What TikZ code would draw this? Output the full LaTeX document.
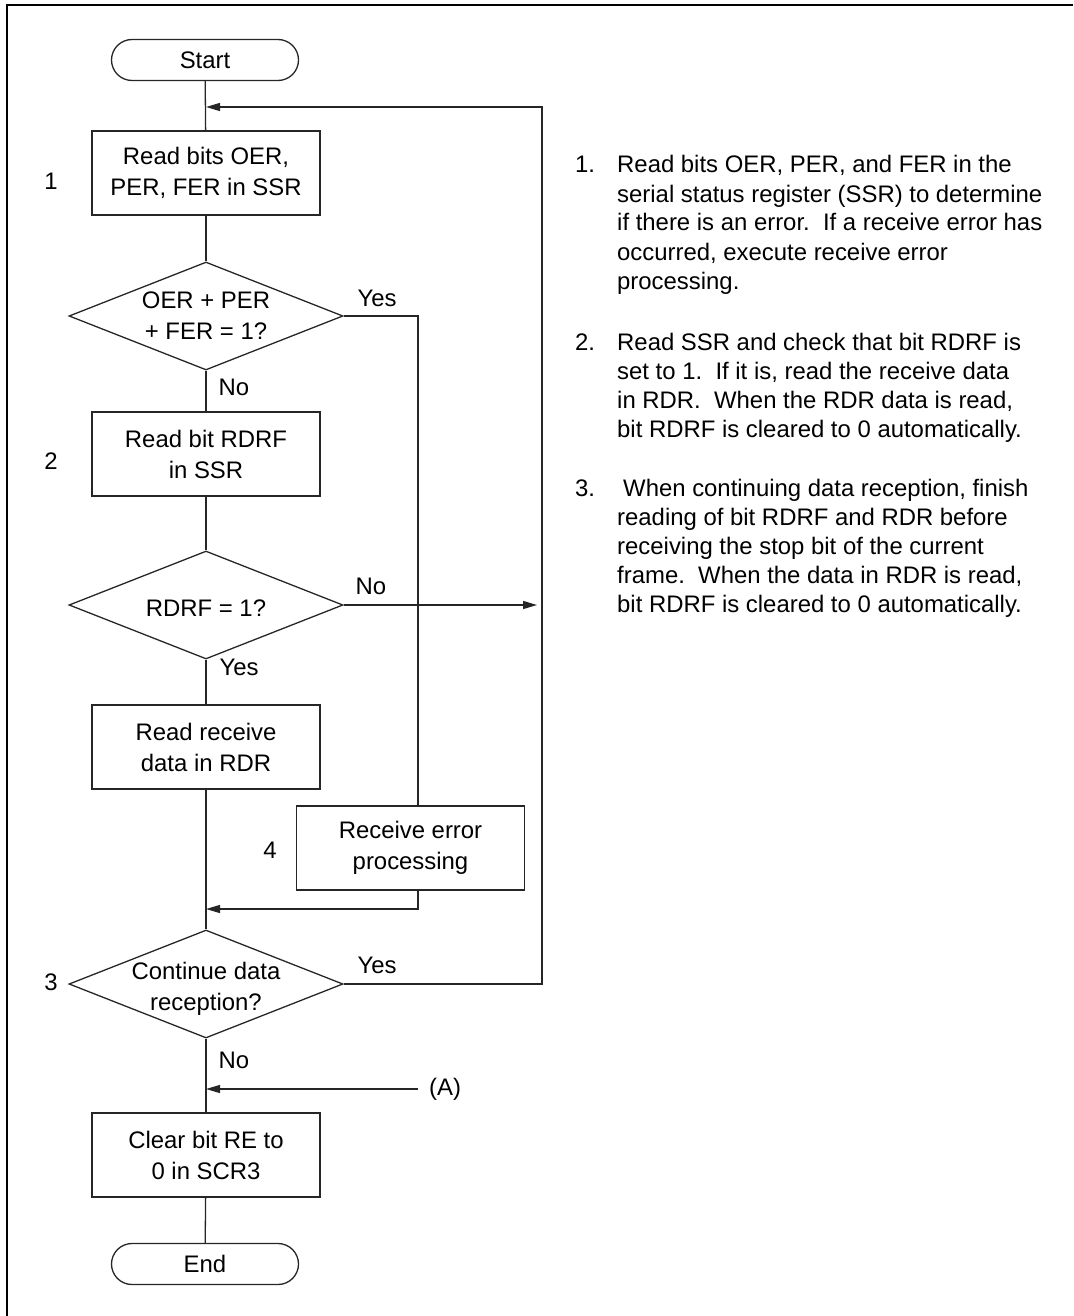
\documentclass[tikz,border=0pt]{standalone}
\usepackage{fontspec}
\setmainfont{Liberation Sans}
\usetikzlibrary{arrows.meta,shapes.geometric,calc}
\begin{document}
\begin{tikzpicture}[x=1pt,y=-1pt,
  every node/.style={font=\fontsize{23.9}{31}\selectfont},
  flow/.style={line width=1.3pt, draw=black!85},
  proc/.style={draw=black!85, line width=1.3pt, rectangle, minimum width=228pt, minimum height=84pt, align=center, inner sep=0,
    execute at begin node={\rule{0pt}{29pt}}},
  term/.style={draw=black!85, line width=1.3pt, rectangle, rounded corners=20.5pt, minimum width=187pt, minimum height=41pt, inner sep=0},
  dec/.style={draw=black!85, line width=1.3pt, diamond, minimum width=274pt, minimum height=108pt, inner sep=0},
  arr/.style={-{Triangle[length=14pt,width=8pt]}},
  lbl/.style={inner sep=0},
  note/.style={inner sep=0, anchor=base west, font=\fontsize{23.9}{29}\selectfont}]
\useasboundingbox (0,0) rectangle (1073,1316);
% frame
\draw[line width=2pt] (7,1316) -- (7,5) -- (1073,5);

% flow nodes
\node[term] (start) at (205,60) {Start};
\node[proc] (b1) at (206,173) {Read bits OER,\\PER, FER in SSR};
\node[dec] (d1) at (206,316) {};
\node[align=center, inner sep=0] (d1t) at (d1) {OER + PER\\+ FER = 1?};
\node[proc] (b2) at (206,454) {Read bit RDRF\\in SSR};
\node[dec] (d2) at (206,605) {};
\node[inner sep=0] (d2t) at ([yshift=-3pt]d2) {RDRF = 1?};
\node[proc] (b3) at (206,747) {Read receive\\data in RDR};
\node[proc] (b4) at (410.5,848) {Receive error\\processing};
\node[dec] (d3) at (206,984) {};
\node[align=center, inner sep=0] (d3t) at ([yshift=-5pt]d3) {Continue data\\reception?};
\node[proc] (b5) at (206,1155) {Clear bit RE to\\0 in SCR3};
\node[term] (end) at (205,1264) {End};

% step labels
\node[lbl] (l1) at (51,181) {1};
\node[lbl] (l2) at (51,461) {2};
\node[lbl] (l3) at (51,982) {3};
\node[lbl] (l4) at (270,850) {4};

% branch labels
\node[lbl] (y1l) at (377,298) {Yes};
\node[lbl] (n1l) at (234,387) {No};
\node[lbl] (n2l) at (371,586) {No};
\node[lbl] (y2l) at (239,667) {Yes};
\node[lbl] (y3l) at (377,965) {Yes};
\node[lbl] (n3l) at (234,1060) {No};
\node[lbl, anchor=west] (alab) at (429,1089) {(A)};

% coordinates
\coordinate (r1) at (542,984);
\coordinate (r2) at (542,107);
\coordinate (m1) at (206,107);
\coordinate (ye) at (418,316);
\coordinate (j1) at (418,909);
\coordinate (j2) at (206,909);
\coordinate (n2) at (537,605);
\coordinate (a1) at (418,1089);
\coordinate (a2) at (206,1089);

% main connectors
\draw[flow] (start) -- (b1);
\draw[flow] (b1) -- (d1);
\draw[flow] (d1) -- (b2);
\draw[flow] (b2) -- (d2);
\draw[flow] (d2) -- (b3);
\draw[flow] (b3) -- (d3);
\draw[flow] (d3) -- (b5);
\draw[flow] (b5) -- (end);

% branches
\draw[flow] (d1.east) -- (ye) -- (ye |- b4.north);
\draw[flow,arr] (j1 |- b4.south) -- (j1) -- (j2);
\draw[flow,arr] (d2.east) -- (n2);
\draw[flow,arr] (d3.east) -- (r1) -- (r2) -- (m1);
\draw[flow,arr] (a1) -- (a2);

% notes
\node[note] (k1) at (575,173) {1.};
\node[note] (t1) at (617,173) {\parbox[t]{450pt}{\raggedright
Read bits OER, PER, and FER in the\\
serial status register (SSR) to determine\\
if there is an error.\ \ If a receive error has\\
occurred, execute receive error\\
processing.}};
\node[note] (k2) at (575,350) {2.};
\node[note] (t2) at (617,350) {\parbox[t]{450pt}{\raggedright
Read SSR and check that bit RDRF is\\
set to 1.\ \ If it is, read the receive data\\
in RDR.\ \ When the RDR data is read,\\
bit RDRF is cleared to 0 automatically.}};
\node[note] (k3) at (575,496) {3.};
\node[note] (t3) at (617,496) {\parbox[t]{450pt}{\raggedright
\hspace*{6pt}When continuing data reception, finish\\
reading of bit RDRF and RDR before\\
receiving the stop bit of the current\\
frame.\ \ When the data in RDR is read,\\
bit RDRF is cleared to 0 automatically.}};
\end{tikzpicture}
\end{document}
